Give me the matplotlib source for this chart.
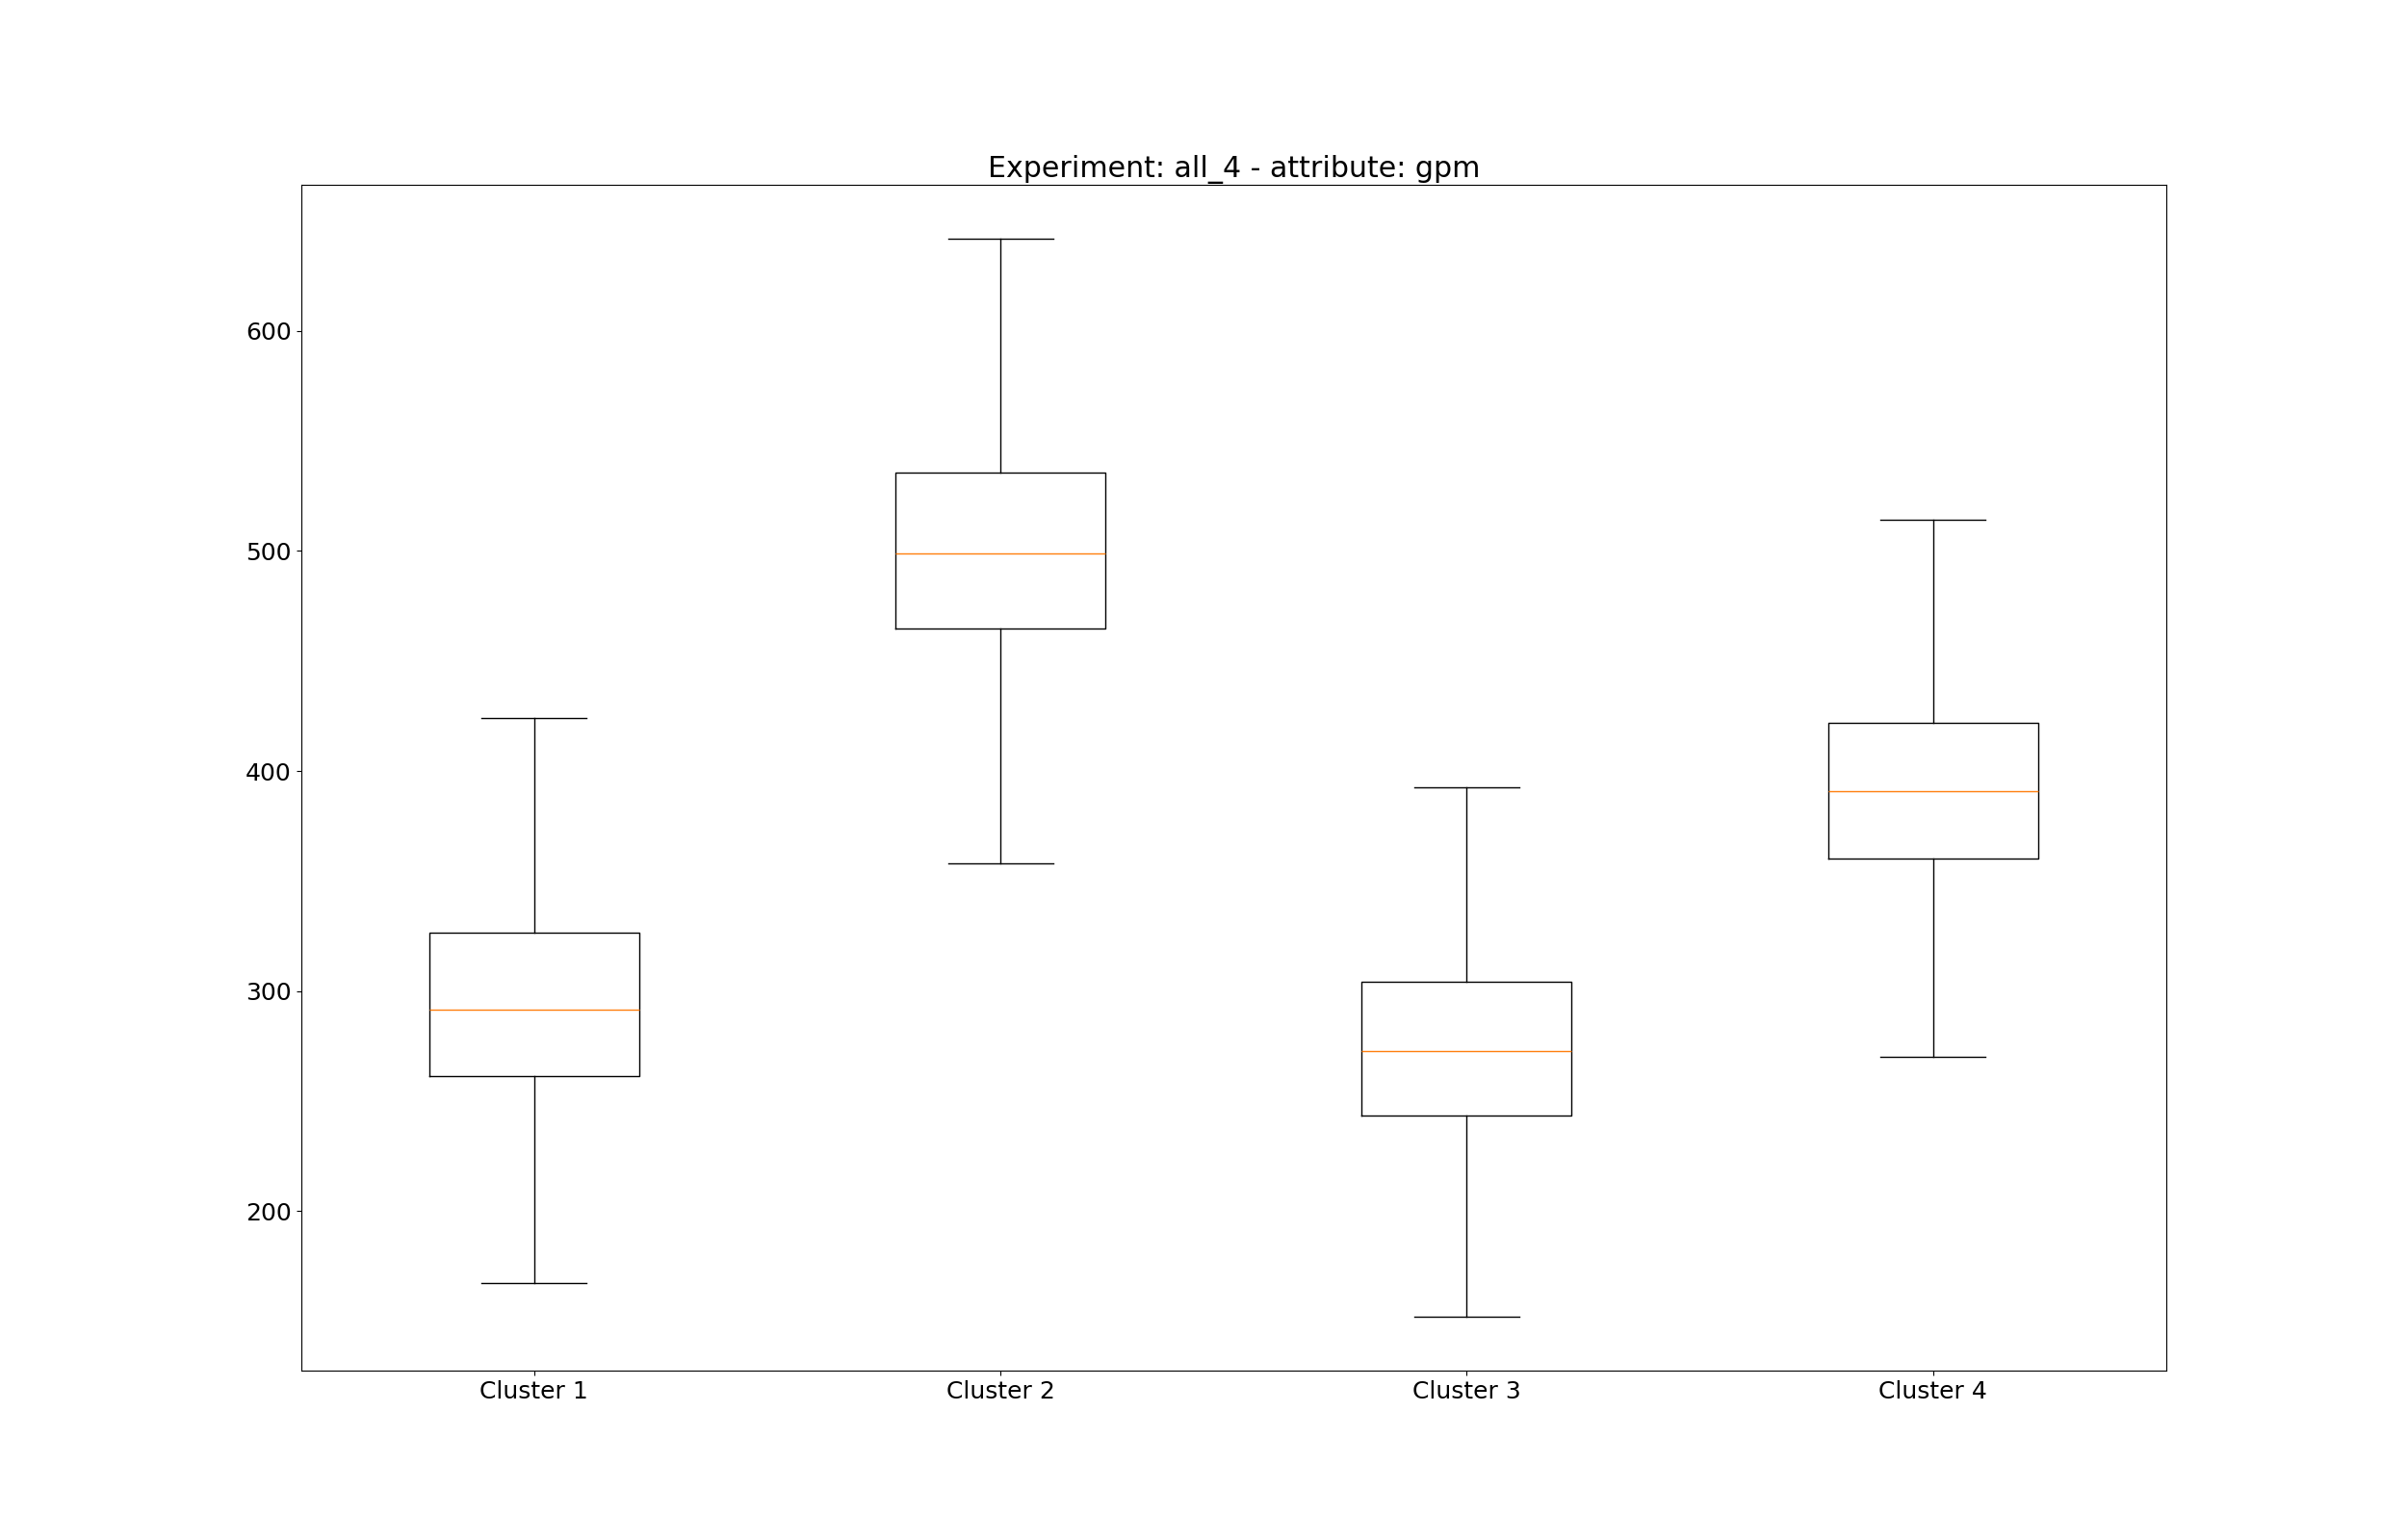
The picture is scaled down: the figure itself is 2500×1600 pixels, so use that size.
import matplotlib
matplotlib.use("Agg")
import matplotlib.pyplot as plt

plt.rcParams["font.size"] = 18

labels = ["Cluster 1", "Cluster 2", "Cluster 3", "Cluster 4"]
whislo = [167.3, 357.9, 152.0, 270.0]
q1 = [261.5, 464.6, 243.4, 360.0]
med = [291.6, 498.7, 272.7, 390.7]
q3 = [326.4, 535.8, 304.1, 422.1]
whishi = [424.1, 641.9, 392.7, 514.2]

stats = []
for i in range(len(labels)):
    stats.append({"label": labels[i], "whislo": whislo[i], "q1": q1[i],
                  "med": med[i], "q3": q3[i], "whishi": whishi[i], "fliers": []})

fig, ax = plt.subplots(figsize=(25, 16), dpi=100)
ax.bxp(stats, showfliers=False)
ax.set_title("Experiment: all_4 - attribute: gpm")
fig.savefig("out.png", dpi=100)
